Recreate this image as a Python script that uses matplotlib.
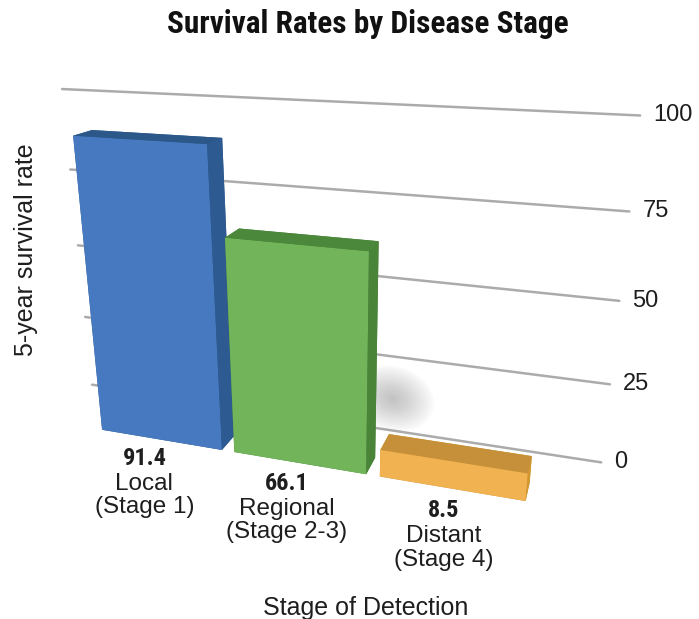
import numpy as np
import matplotlib
matplotlib.use("Agg")
import matplotlib.pyplot as plt
from matplotlib import font_manager
from mpl_toolkits.mplot3d import proj3d
from mpl_toolkits.mplot3d.art3d import Poly3DCollection

# ---- data -------------------------------------------------------------
stages = ["Local\n(Stage 1)", "Regional\n(Stage 2-3)", "Distant\n(Stage 4)"]
survival = [91.4, 66.1, 8.5]
tick_values = [0, 25, 50, 75, 100]

title = "Survival Rates by Disease Stage"
ylabel = "5-year survival rate"
xlabel = "Stage of Detection"

# ---- styling ----------------------------------------------------------
front_colors = ["#4679bf", "#71b45a", "#f1b351"]
top_colors = ["#2c5889", "#4c883b", "#c6903a"]
side_colors = ["#2d5b91", "#4a8439", "#d3972f"]
grid_color = "#ababab"
text_color = "#1e1e1e"


def pick_font(candidates):
    for name in candidates:
        try:
            font_manager.findfont(name, fallback_to_default=False)
            return name
        except Exception:
            continue
    return "DejaVu Sans"


narrow = pick_font(["Liberation Sans Narrow", "Roboto Condensed", "Liberation Sans"])
regular = pick_font(["Liberation Sans", "Arial", "DejaVu Sans"])

W_PX, H_PX = 699, 619

# ---- scene geometry (data units; z is the survival rate) ----------------
slot = 44.6          # distance between bar starts
bar_w = 40.6
bar_d = 9.5
wall_y = 27.0        # back wall holding the gridlines
wall_x0, wall_x1 = -20.5, 148.3
look_x = 72.2        # camera aims at (look_x, wall_y/2, 50)
half_x = 92.7
xlim = (look_x - half_x, look_x + half_x)
ylim = (0.0, wall_y)
zlim = (0.0, 100.0)

# camera: elevation / azimuth in degrees, eye distance in data units
elev, azim = 19.7, -72.25
cam_dist = 255.0
focal_px = 904.0
side_px = 900.0
centre_px = (337.0, H_PX - 288.0)

aspect = np.array([xlim[1] - xlim[0], ylim[1] - ylim[0], zlim[1] - zlim[0]])
unit_norm = 1.8294640721620434 * 25 / 24 / np.linalg.norm(aspect)
focal = focal_px * 0.185 / side_px
zoom = 10 * focal / (cam_dist * unit_norm)

fig = plt.figure(figsize=(W_PX / 100, H_PX / 100), dpi=100)
fig.patch.set_facecolor("white")
ax = fig.add_axes([(centre_px[0] - 0.5135 * side_px) / W_PX,
                   (centre_px[1] - 0.5135 * side_px) / H_PX,
                   side_px / W_PX, side_px / H_PX],
                  projection="3d", computed_zorder=False)
ax.set_proj_type("persp", focal_length=focal)
ax.view_init(elev=elev, azim=azim)
ax.set_xlim(*xlim)
ax.set_ylim(*ylim)
ax.set_zlim(*zlim)
ax.set_box_aspect(tuple(aspect), zoom=zoom)
ax.set_axis_off()

# put the look-at point at the intended pixel
fig.canvas.draw()


def to_display(x, y, z):
    px, py, _ = proj3d.proj_transform(x, y, z, ax.get_proj())
    return ax.transData.transform((px, py))


cx, cy = to_display(look_x, wall_y / 2, 50.0)
pos = ax.get_position()
ax.set_position([pos.x0 + (centre_px[0] - cx) / W_PX,
                 pos.y0 + (centre_px[1] - cy) / H_PX,
                 pos.width, pos.height])

# horizontal gridlines on the back wall
for t in tick_values:
    ax.plot([wall_x0, wall_x1], [wall_y, wall_y], [t, t],
            color=grid_color, lw=1.8, solid_capstyle="round", zorder=1,
            clip_on=False)

# soft shadow of the middle bar falling on the wall
theta = np.linspace(0, 2 * np.pi, 48)
shadow_x = 1 * slot + bar_w + 0.5
shadow_z = 11.0
layers = 16
for k in range(layers):
    r = 1.0 - k / layers
    xs = shadow_x + 13.0 * r * np.cos(theta)
    zs = np.maximum(shadow_z + 11.0 * r * np.sin(theta), 0.0)
    verts = [list(zip(xs, np.full_like(xs, wall_y - 0.1), zs))]
    ax.add_collection3d(Poly3DCollection(verts, facecolor="#777777",
                                         edgecolor="none", alpha=0.03,
                                         zorder=2))

# bars: face order is -z, +z, -y, +y, -x, +x
for i, h in enumerate(survival):
    x0 = i * slot
    faces = [top_colors[i], top_colors[i], front_colors[i],
             side_colors[i], side_colors[i], side_colors[i]]
    ax.bar3d(x0, 0, 0, bar_w, bar_d, h, color=faces, shade=False,
             zorder=3 + i, linewidth=0)

fig.canvas.draw()
to_fig = fig.transFigure.inverted()


def fig_point(x, y, z, dx=0.0, dy=0.0):
    d = to_display(x, y, z)
    return to_fig.transform((d[0] + dx, d[1] + dy))


# value + category labels under each bar
for i, (name, h) in enumerate(zip(stages, survival)):
    xc = i * slot + bar_w / 2
    fx, fy = fig_point(xc, -10.0, 0.0, dy=-9)
    fig.text(fx, fy, f"{h:.1f}", ha="center", va="baseline", fontsize=17.5,
             fontweight="bold", family=narrow, color=text_color)
    for j, line in enumerate(name.split("\n")):
        fx, fy = fig_point(xc, -10.0, 0.0, dy=-34 - 23.5 * j)
        fig.text(fx, fy, line, ha="center", va="baseline", fontsize=17.5,
                 family=regular, color=text_color)

# tick labels at the right end of each gridline
for t in tick_values:
    fx, fy = fig_point(wall_x1, wall_y, t, dx=13)
    fig.text(fx, fy, str(t), ha="left", va="center", fontsize=17,
             family=regular, color=text_color)

fig.text(367.5 / W_PX, 1 - 33 / H_PX, title, ha="center", va="baseline",
         fontsize=22.5, fontweight="bold", family=narrow, color="#111111")
fig.text(26 / W_PX, 1 - 250 / H_PX, ylabel, ha="center", va="center",
         rotation=90, fontsize=18, family=regular, color=text_color)
fig.text(366 / W_PX, 1 - 615 / H_PX, xlabel, ha="center", va="baseline",
         fontsize=18, family=regular, color=text_color)

fig.savefig("out.png", dpi=100, facecolor="white")
